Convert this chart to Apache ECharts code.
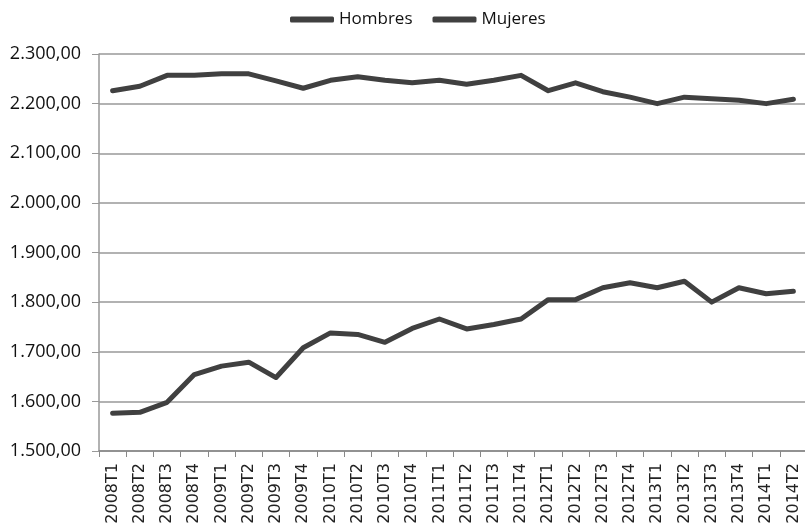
<!DOCTYPE html>
<html>
<head>
<meta charset="utf-8">
<script src="https://cdn.jsdelivr.net/npm/echarts@6/dist/echarts.min.js"></script>
<style>
	html, body { margin: 0; padding: 0; background: #fff; }
	#mychart { width: 805px; height: 523px; }
</style>
</head>
<body>
<div id="mychart"></div>
<script>
var periods = ['2008T1','2008T2','2008T3','2008T4','2009T1','2009T2','2009T3','2009T4',
	'2010T1','2010T2','2010T3','2010T4','2011T1','2011T2','2011T3','2011T4',
	'2012T1','2012T2','2012T3','2012T4','2013T1','2013T2','2013T3','2013T4',
	'2014T1','2014T2'];

var hombres = [2226, 2235, 2257, 2257, 2260, 2260, 2246, 2231,
	2247, 2254, 2247, 2242, 2247, 2239, 2247, 2257,
	2226, 2242, 2224, 2213, 2200, 2213, 2210, 2207,
	2200, 2209];

var mujeres = [1576, 1578, 1598, 1654, 1671, 1679, 1648, 1708,
	1738, 1735, 1719, 1747, 1766, 1746, 1755, 1766,
	1805, 1805, 1829, 1839, 1829, 1842, 1800, 1829,
	1817, 1822];

var seriesNames = ['Hombres', 'Mujeres'];

// 2300 -> "2.300,00"
function fmt(v) {
	var s = String(Math.round(v));
	s = s.replace(/\B(?=(\d{3})+(?!\d))/g, '.');
	return s + ',00';
}

var lineColor = '#404040';

var option = {
	animation: false,
	backgroundColor: '#fff',
	legend: {
		top: 6,
		left: 285,
		itemWidth: 44,
		itemHeight: 6,
		itemGap: 20,
		icon: 'roundRect',
		textStyle: { fontFamily: 'Open Sans', fontSize: 17, fontWeight: 500, color: '#111' },
		data: seriesNames
	},
	grid: {
		left: 99,
		top: 54,
		width: 708,
		bottom: 72,
		outerBoundsMode: 'none'
	},
	xAxis: {
		type: 'category',
		data: periods,
		boundaryGap: true,
		axisLine: { lineStyle: { color: '#888', width: 1.5 } },
		axisTick: { show: true, length: 6, lineStyle: { color: '#888' } },
		axisLabel: {
			rotate: 90,
			interval: 0,
			margin: 12,
			fontFamily: 'DejaVu Sans',
			fontSize: 16,
			color: '#222'
		}
	},
	yAxis: {
		type: 'value',
		min: 1500,
		max: 2300,
		interval: 100,
		axisLine: { show: true, lineStyle: { color: '#999', width: 1.5 } },
		axisTick: { show: true, length: 7, lineStyle: { color: '#999' } },
		splitLine: { lineStyle: { color: '#999', width: 1.5 } },
		axisLabel: {
			formatter: fmt,
			margin: 18,
			fontFamily: 'Open Sans',
			fontSize: 18,
			color: '#111'
		}
	},
	series: [
		{
			name: seriesNames[0],
			type: 'line',
			data: hombres,
			symbol: 'none',
			color: lineColor,
			lineStyle: { color: lineColor, width: 5, cap: 'round', join: 'round' }
		},
		{
			name: seriesNames[1],
			type: 'line',
			data: mujeres,
			symbol: 'none',
			color: lineColor,
			lineStyle: { color: lineColor, width: 5, cap: 'round', join: 'round' }
		}
	]
};

var myChart = echarts.init(document.getElementById('mychart'));
myChart.setOption(option);
</script>
</body>
</html>
